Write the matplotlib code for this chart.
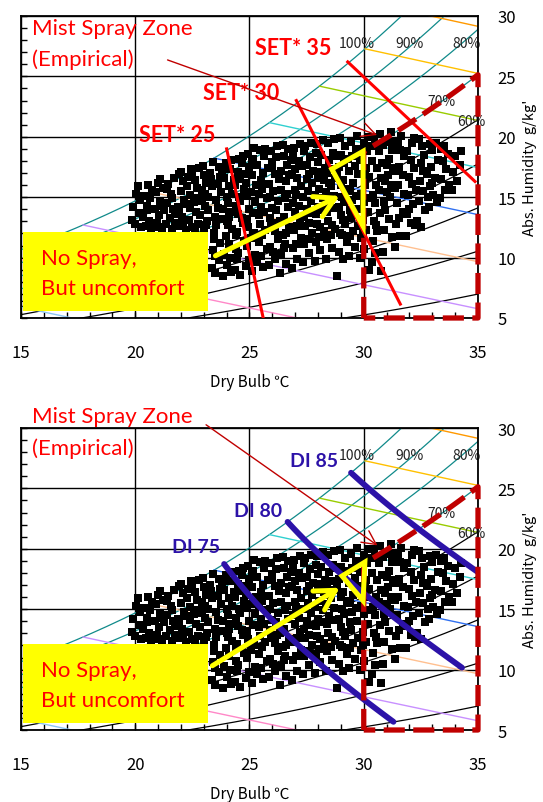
import numpy as np
import matplotlib
matplotlib.use("Agg")
import matplotlib.pyplot as plt
from matplotlib.ticker import MultipleLocator
from matplotlib.patches import Rectangle, Polygon

plt.rcParams['font.family'] = ['Noto Sans CJK JP', 'DejaVu Sans']

# ---- data ----
rh_levels = [100, 90, 80, 70, 60, 50, 40, 30, 20, 10]
rh_colors = ['#108a8a'] * 4 + ['black'] * 6
enthalpy_levels = [30, 40, 50, 60, 70, 80, 90, 100, 110]
enthalpy_colors = ['#8cc4f0', '#ff88c8', '#c890ff', '#ffc090', '#3070f0',
                   '#30d0d0', '#99cc00', '#ffc000', '#ff9900']
rh_label_text = ['100%', '90%', '80%', '70%', '60%']
rh_label_t = [29.7, 32.0, 34.5, 33.4, 34.7]
rh_label_x = [27.8, 27.8, 27.8, 23.0, 21.3]

set_names = ['SET* 25', 'SET* 30', 'SET* 35']
set_start = [(24.0, 19.0), (27.05, 23.0), (29.3, 26.2)]
set_end = [(25.6, 5.0), (31.6, 6.15), (34.87, 16.3)]
set_label_pos = [(21.85, 20.15), (24.65, 23.7), (26.9, 27.4)]

di_names = ['DI 75', 'DI 80', 'DI 85']
di_levels = [75, 80, 85]
di_t_end = [31.3, 34.3, 35.0]
di_label_pos = [(22.66, 20.15), (25.39, 23.13), (27.82, 27.27)]

zone_t = (30.0, 35.0)
zone_rh = 70

observations = [
    (19.85, 13.1), (19.9, 14.2), (20.0, 12.8), (20.05, 15.3), (20.15, 13.7), (20.2, 14.8), (20.25, 12.5), (20.1, 15.9),
    (20.35, 13.4), (20.4, 15.1), (20.45, 12.6), (20.5, 14.3), (20.55, 16.0), (20.6, 13.0), (20.65, 14.9), (20.7, 12.4),
    (20.75, 15.6), (20.5, 13.9),
    (20.85, 14.0), (20.9, 15.4), (20.95, 12.9), (21.0, 16.2), (21.05, 13.5), (21.1, 14.7), (21.15, 12.3), (21.2, 15.8),
    (21.25, 13.9), (21.0, 12.5), (21.1, 16.5), (21.2, 14.3),
    (21.35, 12.8), (21.4, 14.5), (21.45, 16.1), (21.5, 13.3), (21.55, 15.3), (21.6, 12.4), (21.65, 14.0), (21.7, 16.6),
    (21.75, 13.6), (21.4, 15.7), (21.6, 14.9), (21.75, 12.9),
    (21.85, 14.2), (21.9, 16.9), (21.95, 12.6), (22.0, 15.5), (22.05, 13.4), (22.1, 16.3), (22.15, 14.8), (22.2, 12.3),
    (22.25, 15.9), (21.9, 13.8), (22.0, 17.1), (22.1, 12.9), (22.2, 14.4), (22.3, 16.7),
    (22.35, 13.1), (22.4, 15.2), (22.45, 17.3), (22.5, 12.5), (22.55, 14.6), (22.6, 16.4), (22.65, 13.8), (22.7, 15.8),
    (22.75, 12.8), (22.4, 14.1), (22.5, 16.9), (22.6, 12.2), (22.7, 14.9), (22.8, 17.4),
    (22.85, 13.5), (22.9, 15.6), (22.95, 17.6), (23.0, 12.4), (23.05, 14.3), (23.1, 16.2), (23.15, 13.0), (23.2, 15.0),
    (23.25, 17.0), (22.9, 14.7), (23.0, 16.8), (23.1, 12.7), (23.2, 13.9), (23.3, 16.5), (23.05, 15.3),
    (23.35, 9.1), (23.4, 10.6), (23.45, 12.0), (23.5, 13.4), (23.55, 14.8), (23.6, 16.1), (23.65, 17.5), (23.7, 11.2),
    (23.75, 15.4), (23.4, 17.9), (23.5, 8.7), (23.55, 12.7), (23.6, 14.1), (23.7, 16.7), (23.75, 13.2), (23.35, 15.9),
    (23.45, 11.5), (23.65, 9.8), (23.8, 17.2), (23.5, 10.1),
    (23.85, 8.5), (23.9, 10.3), (23.95, 11.8), (24.0, 13.0), (24.05, 14.5), (24.1, 15.9), (24.15, 17.3), (24.2, 18.1),
    (24.25, 12.4), (23.9, 16.6), (24.0, 9.4), (24.1, 11.1), (24.2, 13.8), (24.25, 15.3), (23.85, 14.0), (23.95, 17.8),
    (24.05, 12.7), (24.15, 10.0), (24.3, 16.4), (24.0, 15.0), (24.2, 8.8), (24.1, 13.4),
    (24.35, 9.0), (24.4, 10.7), (24.45, 12.1), (24.5, 13.6), (24.55, 15.0), (24.6, 16.5), (24.65, 17.8), (24.7, 18.4),
    (24.75, 11.4), (24.4, 14.3), (24.5, 17.1), (24.6, 8.6), (24.7, 12.9), (24.75, 15.7), (24.35, 16.0), (24.45, 9.9),
    (24.55, 18.2), (24.65, 13.3), (24.4, 11.9), (24.6, 14.7), (24.8, 16.9), (24.5, 10.4),
    (24.85, 9.3), (24.9, 11.0), (24.95, 12.5), (25.0, 14.0), (25.05, 15.4), (25.1, 16.8), (25.15, 18.2), (25.2, 19.1),
    (25.25, 10.2), (24.9, 13.2), (25.0, 17.5), (25.1, 8.9), (25.2, 12.0), (25.25, 14.6), (24.85, 16.2), (24.95, 18.6),
    (25.05, 11.6), (25.15, 13.7), (24.9, 15.1), (25.1, 17.9), (25.3, 16.0), (25.0, 9.8),
    (25.35, 9.6), (25.4, 11.3), (25.45, 12.8), (25.5, 14.2), (25.55, 15.7), (25.6, 17.0), (25.65, 18.4), (25.7, 19.0),
    (25.75, 10.7), (25.4, 13.5), (25.5, 16.4), (25.6, 9.2), (25.7, 12.3), (25.75, 14.9), (25.35, 17.7), (25.45, 18.9),
    (25.55, 11.9), (25.65, 13.8), (25.4, 15.3), (25.6, 16.1), (25.8, 17.4), (25.5, 10.1),
    (25.85, 9.4), (25.9, 10.9), (25.95, 12.6), (26.0, 14.1), (26.05, 15.5), (26.1, 16.9), (26.15, 18.3), (26.2, 19.2),
    (26.25, 11.5), (25.9, 13.3), (26.0, 17.6), (26.1, 9.9), (26.2, 12.9), (26.25, 14.7), (25.85, 16.1), (25.95, 18.8),
    (26.05, 10.5), (26.15, 13.9), (25.9, 15.0), (26.1, 12.2), (26.3, 16.5), (26.0, 17.9),
    (26.35, 8.7), (26.4, 10.3), (26.45, 11.9), (26.5, 13.4), (26.55, 14.9), (26.6, 16.3), (26.65, 17.7), (26.7, 19.0),
    (26.75, 12.5), (26.4, 15.6), (26.5, 18.4), (26.6, 9.5), (26.7, 14.2), (26.75, 16.8), (26.35, 13.0), (26.45, 19.3),
    (26.55, 11.1), (26.65, 15.3), (26.4, 17.2), (26.6, 12.0), (26.8, 18.1), (26.5, 10.8),
    (26.85, 9.1), (26.9, 10.8), (26.95, 12.3), (27.0, 13.8), (27.05, 15.2), (27.1, 16.6), (27.15, 18.0), (27.2, 19.4),
    (27.25, 11.6), (26.9, 14.5), (27.0, 17.3), (27.1, 9.9), (27.2, 13.1), (27.25, 15.9), (26.85, 16.9), (26.95, 19.1),
    (27.05, 11.1), (27.15, 14.3), (26.9, 18.5), (27.1, 12.6), (27.3, 17.6), (27.0, 15.6),
    (27.35, 9.6), (27.4, 11.1), (27.45, 12.6), (27.5, 14.0), (27.55, 15.5), (27.6, 16.9), (27.65, 18.3), (27.7, 19.5),
    (27.75, 12.0), (27.4, 13.4), (27.5, 17.7), (27.6, 10.4), (27.7, 14.7), (27.75, 16.2), (27.35, 15.0), (27.45, 19.2),
    (27.55, 11.5), (27.65, 13.7), (27.4, 18.8), (27.6, 12.9), (27.8, 17.2), (27.5, 16.5),
    (27.85, 9.7), (27.9, 11.3), (27.95, 12.8), (28.0, 14.2), (28.05, 15.7), (28.1, 17.1), (28.15, 18.5), (28.2, 19.7),
    (28.25, 12.2), (27.9, 13.6), (28.0, 17.9), (28.1, 10.6), (28.2, 14.9), (28.25, 16.4), (27.85, 15.2), (27.95, 19.4),
    (28.05, 11.7), (28.15, 13.9), (27.9, 18.7), (28.1, 12.5), (28.3, 17.4), (28.0, 16.6),
    (28.35, 9.9), (28.4, 11.5), (28.45, 13.0), (28.5, 14.4), (28.55, 15.9), (28.6, 17.3), (28.65, 18.7), (28.7, 19.8),
    (28.75, 12.4), (28.4, 13.8), (28.5, 18.1), (28.6, 10.8), (28.7, 15.1), (28.75, 16.6), (28.35, 15.4), (28.45, 19.5),
    (28.55, 11.9), (28.65, 14.1), (28.4, 17.0), (28.6, 12.7), (28.8, 18.4), (28.5, 16.2),
    (28.85, 8.5), (28.9, 10.5), (28.95, 12.0), (29.0, 13.5), (29.05, 15.0), (29.1, 16.4), (29.15, 17.8), (29.2, 19.2),
    (29.25, 11.3), (28.9, 14.2), (29.0, 18.5), (29.1, 9.9), (29.2, 12.8), (29.25, 15.7), (28.85, 16.8), (28.95, 19.9),
    (29.05, 11.9), (29.15, 14.6), (28.9, 17.5), (29.1, 13.1), (29.3, 18.2), (29.0, 16.0),
    (29.35, 10.1), (29.4, 11.8), (29.45, 13.3), (29.5, 14.8), (29.55, 16.2), (29.6, 17.6), (29.65, 19.0), (29.7, 20.1),
    (29.75, 12.6), (29.4, 15.5), (29.5, 18.4), (29.6, 10.9), (29.7, 14.0), (29.75, 16.9), (29.35, 17.2), (29.45, 19.6),
    (29.55, 12.2), (29.65, 15.1), (29.4, 13.9), (29.8, 18.8),
    (29.85, 10.0), (29.9, 11.6), (29.95, 13.1), (30.0, 14.6), (30.05, 16.0), (30.1, 17.4), (30.15, 18.8), (30.2, 20.0),
    (30.25, 9.0), (29.9, 15.3), (30.0, 19.5), (30.1, 12.3), (30.2, 13.8), (30.25, 16.7), (29.85, 18.1), (29.95, 12.0),
    (30.05, 17.0), (30.15, 14.9), (30.3, 19.2), (30.0, 10.7),
    (30.35, 9.6), (30.4, 11.4), (30.45, 13.0), (30.5, 14.5), (30.55, 16.0), (30.6, 17.4), (30.65, 18.8), (30.7, 20.2),
    (30.75, 8.9), (30.4, 15.2), (30.5, 19.4), (30.6, 12.2), (30.7, 13.7), (30.75, 16.6), (30.35, 18.0), (30.45, 20.0),
    (30.55, 12.7), (30.65, 15.6), (30.8, 17.8), (30.5, 10.4),
    (30.85, 10.5), (30.9, 12.3), (30.95, 13.9), (31.0, 15.4), (31.05, 16.8), (31.1, 18.2), (31.15, 19.6), (31.2, 20.4),
    (31.25, 11.7), (30.9, 14.6), (31.0, 17.7), (31.1, 13.2), (31.2, 16.0), (31.25, 18.9), (30.85, 19.3), (30.95, 16.3),
    (31.15, 15.0), (31.3, 17.4),
    (31.35, 10.9), (31.4, 12.8), (31.45, 14.5), (31.5, 16.0), (31.55, 17.5), (31.6, 18.9), (31.65, 20.1), (31.7, 13.8),
    (31.75, 15.3), (31.4, 17.2), (31.5, 19.6), (31.6, 11.8), (31.7, 16.8), (31.75, 18.4), (31.35, 15.8), (31.55, 13.3),
    (31.85, 11.8), (31.9, 13.6), (31.95, 15.2), (32.0, 16.7), (32.05, 18.1), (32.1, 19.5), (32.15, 14.4), (32.2, 17.4),
    (32.25, 12.7), (31.9, 18.8), (32.0, 14.0), (32.1, 16.1), (32.2, 19.9), (32.3, 15.6), (32.05, 12.9),
    (32.35, 13.0), (32.4, 14.7), (32.45, 16.3), (32.5, 17.8), (32.55, 19.2), (32.6, 15.5), (32.65, 18.5), (32.7, 13.9),
    (32.75, 16.9), (32.4, 19.8), (32.5, 12.5), (32.6, 17.2), (32.8, 15.0),
    (32.85, 14.2), (32.9, 15.9), (32.95, 17.5), (33.0, 18.9), (33.05, 15.2), (33.1, 16.6), (33.15, 19.5), (33.2, 14.6),
    (33.25, 18.1), (32.9, 19.4), (33.0, 16.2),
    (33.35, 14.9), (33.4, 16.5), (33.45, 18.0), (33.5, 19.2), (33.55, 15.6), (33.6, 17.3), (33.7, 18.6), (33.75, 16.0),
    (33.4, 19.0),
    (33.85, 15.6), (33.9, 17.1), (34.0, 18.4), (34.1, 16.3), (34.2, 17.7), (34.25, 18.8),
]
temp_c = [p[0] for p in observations]
abs_hum = [p[1] for p in observations]

# yellow arrows / triangles (per panel)
yellow_arrow = {
    'top': [(23.4, 10.05), (29.05, 15.2)],
    'bottom': [(23.27, 10.2), (29.05, 16.9)],
}
yellow_tri = {
    'top': [(28.6, 17.33), (29.97, 18.8), (29.97, 12.6)],
    'bottom': [(29.05, 17.75), (30.05, 18.9), (29.97, 15.7)],
}
mist_text_y = {'top': (29.0, 26.44), 'bottom': (31.0, 28.4)}
mist_arrow = {'top': [(21.3, 26.44), (30.7, 20.07)],
              'bottom': [(23.0, 30.4), (30.7, 20.15)]}


def p_sat(t):
    return 0.61078 * np.exp(17.27 * t / (t + 237.3))


def x_from_rh(t, rh):
    pw = rh / 100.0 * p_sat(t)
    return 622.0 * pw / (101.325 - pw)


def x_from_h(t, h):
    return (h - 1.006 * t) / (2501.0 + 1.86 * t) * 1000.0


def draw_panel(ax, which):
    ax.set_xlim(15, 35)
    ax.set_ylim(5, 30)
    ax.set_axisbelow(True)
    tt = np.linspace(10, 36, 600)
    for rh, c in zip(rh_levels, rh_colors):
        ax.plot(tt, x_from_rh(tt, rh), color=c, lw=0.9, zorder=1)
    # enthalpy lines from saturation to the right edge
    grid_t = np.linspace(0, 40, 4001)
    h_sat = 1.006 * grid_t + x_from_rh(grid_t, 100) / 1000 * (2501 + 1.86 * grid_t)
    for h, c in zip(enthalpy_levels, enthalpy_colors):
        t0 = np.interp(h, h_sat, grid_t)
        th = np.linspace(t0, 35, 100)
        ax.plot(th, x_from_h(th, h), color=c, lw=1.0, zorder=1)
    for s, tx, ty in zip(rh_label_text, rh_label_t, rh_label_x):
        ax.text(tx, ty, s, fontsize=10, ha='center', va='center', color='#222222', zorder=2)

    ax.plot(temp_c, abs_hum, 's', color='black', ms=5.8, mew=0, zorder=3)

    if which == 'top':
        for name, a, b, lp in zip(set_names, set_start, set_end, set_label_pos):
            ax.plot([a[0], b[0]], [a[1], b[1]], color='#ff0000', lw=2.2, zorder=4)
            ax.text(lp[0], lp[1], name, color='#ff0000', fontsize=15.5, fontweight='bold',
                    family='Lato', ha='center', va='center', zorder=8)
    else:
        for name, di, t1, lp in zip(di_names, di_levels, di_t_end, di_label_pos):
            t0 = (di - 32.0) / 1.8
            td = np.linspace(t0, t1, 100)
            rh = (di - 46.3 - 0.81 * td) / (0.01 * (0.99 * td - 14.3))
            ax.plot(td, x_from_rh(td, rh), color='#2c12a8', lw=4.2, zorder=4,
                    solid_capstyle='round')
            ax.text(lp[0], lp[1], name, color='#2c12a8', fontsize=14, fontweight='bold',
                    family='Lato', ha='center', va='center', zorder=8)

    # mist spray zone
    tz = np.linspace(zone_t[0], zone_t[1], 60)
    zx = np.concatenate([[zone_t[0]], tz, [zone_t[1], zone_t[0]]])
    zy = np.concatenate([[5.0], x_from_rh(tz, zone_rh), [5.0, 5.0]])
    ax.plot(zx, zy, color='#c00000', lw=3.8, ls=(0, (4, 1.6)), zorder=5, clip_on=False)

    # yellow arrow and triangle
    a0, a1 = yellow_arrow[which]
    ax.annotate('', xy=a1, xytext=a0, zorder=6,
                arrowprops=dict(arrowstyle='->,head_length=0.7,head_width=0.4',
                                color='#ffff00', lw=3.6, mutation_scale=20))
    ax.add_patch(Polygon(yellow_tri[which], closed=True, fill=False, edgecolor='#ffff00',
                         lw=3.6, joinstyle='miter', zorder=6))

    # no spray box
    ax.add_patch(Rectangle((15.09, 5.55), 8.1, 6.55, facecolor='#ffff00', edgecolor='none', zorder=7))
    ax.text(15.88, 9.95, 'No Spray,', color='#ff0000', fontsize=16, family='Lato',
            ha='left', va='center', zorder=8)
    ax.text(15.88, 7.5, 'But uncomfort', color='#ff0000', fontsize=16, family='Lato',
            ha='left', va='center', zorder=8)

    y1, y2 = mist_text_y[which]
    ax.text(15.48, y1, 'Mist Spray Zone', color='#ff0000', fontsize=16, family='Lato',
            ha='left', va='center', zorder=8)
    ax.text(15.48, y2, '(Empirical)', color='#ff0000', fontsize=16, family='Lato',
            ha='left', va='center', zorder=8)
    m0, m1 = mist_arrow[which]
    ax.annotate('', xy=m1, xytext=m0, zorder=8, annotation_clip=False,
                arrowprops=dict(arrowstyle='->,head_length=0.5,head_width=0.25',
                                color='#c00000', lw=1.0, mutation_scale=20))

    ax.set_xticks([15, 20, 25, 30, 35])
    ax.set_yticks([5, 10, 15, 20, 25, 30])
    ax.xaxis.set_minor_locator(MultipleLocator(1))
    ax.yaxis.set_minor_locator(MultipleLocator(1))
    ax.tick_params(axis='x', which='both', direction='in', top=False, bottom=True,
                   length=4, width=1, pad=19, labelsize=12)
    ax.tick_params(axis='y', which='both', direction='in', left=True, right=False,
                   labelleft=False, labelright=True, length=4, width=1, pad=14, labelsize=12)
    ax.grid(True, which='major', color='black', lw=1.0)
    for sp in ax.spines.values():
        sp.set_linewidth(1.3)
    ax.yaxis.set_label_position('right')
    ax.set_ylabel("Abs. Humidity  g/kg'", fontsize=10.5, labelpad=5)
    ax.text(0.5, -0.21, 'Dry Bulb ℃', transform=ax.transAxes, ha='center', va='center',
            fontsize=11)


fig = plt.figure(figsize=(5.43, 8.03), dpi=100)
ax_top = fig.add_axes([0.03867, 0.60274, 0.84162, 0.37609])
ax_bot = fig.add_axes([0.03867, 0.08966, 0.84162, 0.37609])
draw_panel(ax_top, 'top')
draw_panel(ax_bot, 'bottom')
fig.savefig('out.png', dpi=100)
